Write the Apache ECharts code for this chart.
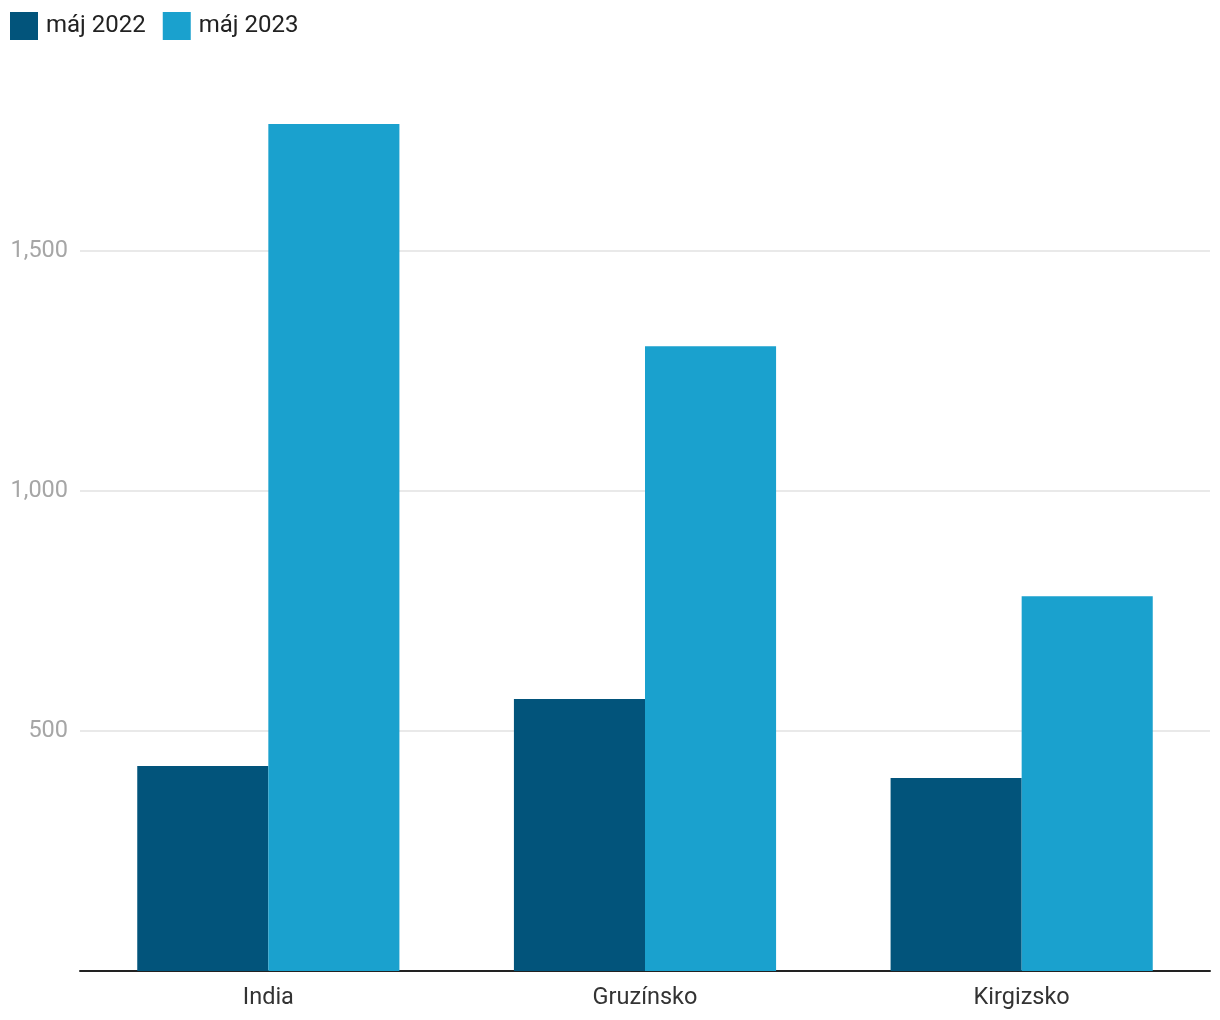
<!DOCTYPE html>
<html><head><meta charset="utf-8">
<script src="https://cdn.jsdelivr.net/npm/echarts@6/dist/echarts.min.js"></script>
<style>html,body{margin:0;padding:0;background:#fff}#c{width:1220px;height:1020px}</style>
</head><body><div id="c"></div>
<script>
const categories = ['India', 'Gruzínsko', 'Kirgizsko'];
const seriesNames = ['máj 2022', 'máj 2023'];
const values2022 = [427, 567, 402];
const values2023 = [1765, 1302, 781];
const yTicks = [0, 500, 1000, 1500];

const chart = echarts.init(document.getElementById('c'));
chart.setOption({
  animation: false,
  color: ['#02547b', '#1aa1ce'],
  legend: {
    left: 10, top: 12, padding: 0, itemWidth: 28, itemHeight: 28, itemGap: 17,
    icon: 'rect',
    textStyle: { fontFamily: 'Roboto', fontSize: 24, color: '#222', padding: [4, 0, 0, 3] },
    data: seriesNames
  },
  grid: { left: 80, right: 10, top: 124, bottom: 49, containLabel: false },
  xAxis: {
    type: 'category', data: categories,
    axisLine: { lineStyle: { color: '#222', width: 2 } },
    axisTick: { show: false },
    axisLabel: { fontFamily: 'Roboto', fontSize: 23.5, color: '#333', margin: 15 }
  },
  yAxis: {
    type: 'value', min: 0, max: Math.max(...values2023, ...values2022), interval: 500,
    axisLine: { show: false }, axisTick: { show: false },
    splitLine: { showMaxLine: false, lineStyle: { color: '#e2e2e2', width: 1.5 } },
    axisLabel: {
      fontFamily: 'Roboto', fontSize: 23.5, color: '#a6a6a6', margin: 12, showMaxLabel: false,
      formatter: v => (v === 0 || !yTicks.includes(v)) ? '' : v.toLocaleString('en-US')
    }
  },
  series: [
    { name: seriesNames[0], type: 'bar', data: values2022, barGap: '0%', barCategoryGap: '30.4%' },
    { name: seriesNames[1], type: 'bar', data: values2023, barGap: '0%', barCategoryGap: '30.4%' }
  ]
});
</script></body></html>
